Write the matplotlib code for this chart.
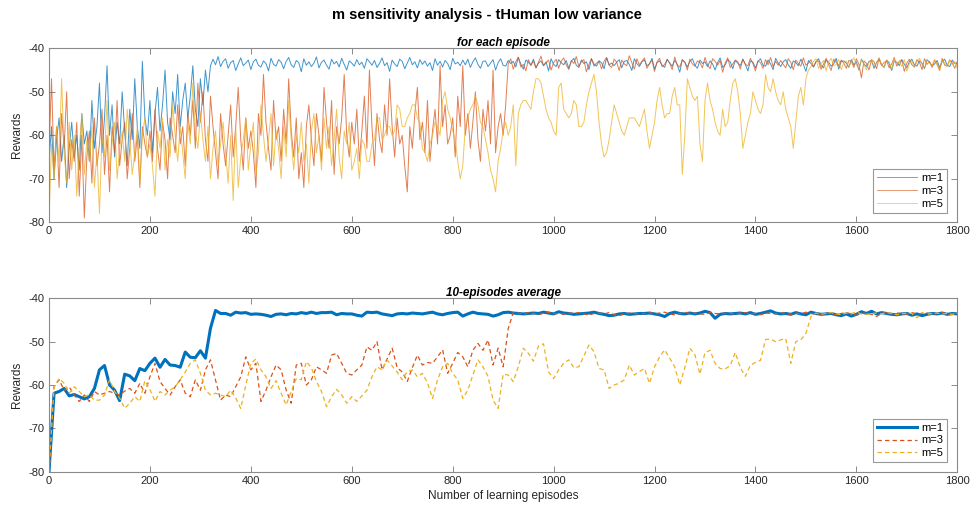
import numpy as np
import matplotlib
matplotlib.use('Agg')
import matplotlib.pyplot as plt

# ---------------- data ----------------
series_labels = ['m=1', 'm=3', 'm=5']
series_colors = ['#0072BD', '#D95319', '#EDB120']
x_ticks = [0, 200, 400, 600, 800, 1000, 1200, 1400, 1600, 1800]
y_ticks = [-80, -70, -60, -50, -40]

# per-episode rewards (read every 5 episodes), segments: (first episode, last episode, values)
top_m1_early = [  # episodes 0..320
    -66, -58, -70, -61, -56, -66, -60, -72, -63, -57, -65, -60, -68, -55, -62, -59, -66, -52, -63, -58,
    -48, -64, -56, -44, -60, -53, -65, -57, -62, -50, -59, -67, -54, -61, -47, -58, -63, -43, -56, -60,
    -52, -64, -55, -49, -59, -53, -45, -57, -61, -50, -55, -46, -58, -52, -48, -56, -51, -44, -54, -58,
    -47, -53, -45, -50, -44]
top_m1_late = [  # episodes 325..1800
    -42.5, -43.8, -41.9, -44.2, -43.0, -42.4, -44.6, -43.3, -42.8, -45.1, -43.6, -42.2, -44.0, -43.4, -42.7, -44.9, -43.1, -42.5, -43.9, -44.3,
    -42.9, -43.5, -45.2, -42.3, -43.7, -44.1, -42.6, -43.2, -44.7, -43.0, -42.1, -43.8, -44.4, -42.8, -43.3, -45.4, -42.4, -43.9, -43.1, -44.2,
    -43.4, -42.0, -44.5, -43.2, -42.7, -43.9, -44.8, -42.5, -43.6, -43.0, -44.3, -42.3, -43.7, -45.0, -42.9, -43.4, -44.1, -42.6, -43.8, -43.2,
    -44.6, -42.4, -43.1, -43.9, -42.8, -44.4, -43.5, -42.2, -44.0, -43.3, -45.3, -42.7, -43.6, -44.2, -42.5, -43.0, -44.7, -43.4, -42.1, -43.8,
    -43.1, -44.5, -42.6, -43.7, -42.9, -44.1, -43.3, -45.1, -42.4, -43.9, -43.0, -44.3, -42.8, -43.5, -44.9, -42.3, -43.6, -43.2, -44.0, -42.7,
    -43.8, -42.5, -44.4, -43.1, -42.2, -43.7, -44.6, -43.0, -42.9, -44.2, -43.4, -42.6, -45.0, -43.3, -42.4, -43.9, -44.1, -42.8, -43.5, -43.0,
    -44.3, -42.1, -43.6, -44.8, -42.7, -43.2, -43.9, -42.5, -44.5, -43.4, -42.9, -44.0, -43.1, -45.2, -42.4, -43.7, -44.2, -42.6, -43.3, -43.8,
    -42.8, -44.6, -43.0, -42.3, -43.9, -44.4, -42.7, -43.5, -43.1, -44.9, -42.5, -43.6, -44.1, -42.9, -43.3, -44.7, -42.2, -43.8, -43.4, -44.0,
    -43.2, -42.6, -44.5, -43.0, -42.8, -43.7, -45.1, -42.4, -43.5, -44.2, -43.1, -42.7, -44.0, -43.6, -42.3, -44.8, -43.3, -42.9, -43.9, -44.4,
    -42.5, -43.4, -44.1, -42.8, -43.7, -45.5, -42.6, -43.2, -44.3, -43.0, -42.4, -43.9, -44.6, -42.7, -43.5, -43.1, -44.2, -42.9, -43.6, -45.0,
    -43.3, -42.2, -44.4, -43.8, -42.6, -43.1, -44.7, -42.8, -43.4, -44.0, -42.5, -43.7, -45.2, -42.9, -43.2, -44.5, -43.0, -42.4, -43.9, -44.1,
    -42.7, -43.6, -44.9, -42.3, -43.4, -44.2, -43.1, -42.6, -43.8, -44.6, -42.9, -43.3, -44.0, -42.5, -43.7, -45.3, -42.8, -43.5, -44.3, -43.0,
    -42.4, -43.9, -44.5, -42.7, -43.2, -44.1, -43.6, -42.3, -44.8, -43.0, -42.9, -43.4, -44.4, -42.6, -43.8, -43.1, -45.0, -42.5, -43.6, -44.2,
    -43.0, -42.8, -44.6, -43.3, -42.4, -43.9, -44.3, -42.7, -43.5, -45.1, -42.9, -43.2, -44.0, -42.6, -43.7, -44.5, -43.1, -42.5, -43.8, -44.1,
    -42.9, -43.4, -44.7, -42.6, -43.2, -44.0, -43.6, -42.8, -44.4, -43.1, -42.5, -43.9, -44.2, -42.7, -43.5, -43.3]

top_m3_early = [  # episodes 0..905
    -64, -47, -68, -58, -72, -55, -63, -50, -70, -61, -66, -57, -74, -60, -79, -65, -59, -71, -56, -67,
    -62, -54, -69, -60, -73, -58, -64, -52, -67, -61, -57, -70, -63, -55, -66, -60, -72, -58, -62, -65,
    -59, -66, -54, -63, -68, -57, -61, -70, -56, -60, -64, -53, -62, -58, -67, -55, -60, -52, -63, -48,
    -57, -50, -61, -66, -51, -58, -64, -70, -55, -62, -67, -60, -53, -65, -58, -49, -61, -68, -56, -63,
    -59, -64, -72, -55, -60, -46, -57, -63, -68, -52, -61, -58, -66, -54, -62, -47, -59, -65, -56, -70,
    -64, -72, -58, -53, -61, -67, -55, -60, -66, -49, -57, -63, -52, -69, -58, -62, -56, -46, -60, -65,
    -57, -62, -54, -66, -59, -51, -63, -45, -58, -67, -55, -61, -64, -53, -60, -47, -58, -65, -56, -62,
    -60, -67, -73, -58, -63, -55, -49, -61, -57, -64, -52, -66, -59, -54, -62, -44, -58, -53, -62, -60,
    -56, -65, -51, -58, -44, -60, -55, -63, -57, -50, -61, -66, -54, -59, -52, -62, -45, -64, -58, -55,
    -60, -53]
top_m3_late = [  # episodes 910..1800
    -43.6, -42.4, -44.8, -43.1, -42.0, -44.3, -43.7, -45.2, -42.6, -43.9, -42.9, -44.5, -43.2, -41.8, -44.0, -43.4, -42.7, -45.0, -43.3, -42.5,
    -44.6, -43.0, -42.2, -43.8, -44.9, -42.8, -43.5, -41.9, -44.2, -43.1, -42.6, -45.4, -43.7, -42.3, -44.1, -43.4, -42.9, -44.7, -43.0, -42.1,
    -43.9, -44.4, -42.5, -43.2, -45.1, -42.7, -43.6, -44.0, -41.7, -43.3, -44.8, -42.4, -43.8, -43.0, -42.2, -44.6, -43.5, -42.8, -45.3, -43.1,
    -42.3, -44.2, -43.7, -42.6, -43.4, -44.9, -42.0, -43.9, -44.3, -42.7, -43.2, -45.0, -42.5, -43.6, -44.1, -42.9, -43.3, -44.5, -42.1, -43.8,
    -44.7, -42.4, -43.0, -43.9, -42.8, -45.5, -43.4, -42.2, -44.4, -43.6, -42.7, -43.1, -44.8, -42.5, -43.7, -44.0, -42.3, -43.5, -45.2, -42.9,
    -43.3, -44.6, -42.6, -43.8, -42.1, -44.2, -43.0, -43.9, -42.8, -43.7, -44.5, -42.4, -43.2, -44.9, -42.7, -43.5, -44.1, -42.2, -43.9, -43.4,
    -42.6, -44.3, -43.1, -42.9, -44.8, -43.6, -42.3, -43.8, -45.1, -42.5, -43.2, -44.0, -42.7, -43.4, -44.6, -42.8, -43.0, -44.4, -42.4, -43.7,
    -46.8, -42.9, -43.5, -45.0, -42.6, -43.1, -44.7, -42.3, -43.9, -43.3, -42.8, -44.5, -43.6, -42.1, -44.1, -43.0, -42.7, -45.3, -43.4, -42.5,
    -43.8, -44.3, -42.6, -43.2, -44.9, -42.4, -43.7, -43.0, -44.4, -42.8, -43.5, -45.1, -42.3, -43.9, -44.0, -42.7, -43.3, -44.6, -43.1]

top_m5_early = [  # episodes 0..600
    -80, -62, -70, -58, -66, -47, -64, -71, -57, -68, -60, -74, -63, -55, -69, -61, -66, -58, -72, -64,
    -78, -60, -65, -52, -68, -62, -57, -70, -63, -59, -66, -54, -61, -69, -64, -58, -71, -60, -56, -65,
    -62, -67, -74, -59, -63, -56, -68, -61, -65, -53, -60, -66, -58, -64, -70, -57, -62, -48, -59, -63,
    -55, -61, -66, -58, -70, -63, -59, -67, -62, -57, -64, -71, -60, -75, -58, -72, -65, -61, -56, -68,
    -62, -57, -69, -64, -53, -60, -66, -61, -55, -67, -59, -63, -70, -58, -65, -52, -61, -68, -60, -64,
    -57, -66, -62, -71, -59, -55, -64, -60, -68, -56, -63, -58, -67, -61, -54, -65, -70, -59, -62, -57,
    -68]
top_m5_mid = [  # episodes 605..1505
    -66, -63, -70, -61, -62, -66, -66, -62, -61, -56, -56, -61, -60, -58, -58, -60, -59, -53, -54, -58,
    -58, -56, -55, -53, -53, -56, -57, -63, -64, -66, -62, -60, -57, -58, -60, -52, -50, -54, -56, -59,
    -61, -66, -70, -67, -58, -56, -54, -53, -51, -53, -57, -58, -61, -64, -68, -70, -73, -66, -63, -59,
    -57, -60, -58, -53, -67, -55, -53, -52, -52, -53, -54, -50, -47, -47, -48, -51, -54, -56, -57, -59,
    -60, -49, -48, -54, -55, -56, -55, -52, -53, -58, -58, -57, -53, -50, -48, -46, -50, -57, -62, -65,
    -64, -61, -57, -53, -55, -57, -59, -60, -58, -56, -56, -56, -57, -58, -56, -54, -59, -63, -60, -57,
    -52, -49, -53, -56, -55, -55, -51, -49, -53, -53, -69, -60, -47, -49, -51, -52, -51, -62, -66, -52,
    -48, -52, -54, -57, -59, -60, -54, -58, -57, -52, -48, -47, -50, -55, -63, -60, -57, -55, -50, -52,
    -54, -55, -53, -46, -49, -50, -47, -50, -52, -53, -50, -54, -56, -58, -63, -57, -51, -49, -53, -47,
    -45]
top_m5_late = [  # episodes 1510..1800
    -44.2, -43.0, -42.4, -44.6, -43.5, -42.8, -45.2, -43.1, -42.3, -44.0, -43.7, -42.6, -44.9, -43.3, -42.9, -44.3, -43.0, -42.2, -43.8, -44.7,
    -42.5, -43.6, -45.0, -43.2, -42.7, -44.1, -43.4, -42.1, -43.9, -44.5, -42.8, -43.1, -44.8, -42.4, -43.6, -43.0, -44.2, -42.6, -45.3, -43.5,
    -42.9, -44.4, -43.2, -42.3, -43.7, -44.6, -42.7, -43.4, -44.0, -42.5, -43.9, -45.1, -42.8, -43.3, -44.3, -42.6, -43.8, -43.1, -44.5]

top_segments = [
    [(0, 320, top_m1_early), (325, 1800, top_m1_late)],
    [(0, 905, top_m3_early), (910, 1800, top_m3_late)],
    [(0, 600, top_m5_early), (605, 1505, top_m5_mid), (1510, 1800, top_m5_late)],
]

# 10-episode averages, episodes 0, 10, ..., 1800
avg_m1 = [
    -80.0, -61.9, -61.5, -60.8, -62.5, -62.2, -62.7, -63.2, -62.7, -60.8, -56.5, -55.5, -60.0, -61.2, -63.6, -57.5, -57.9, -59.0, -56.2, -56.7,
    -55.0, -53.8, -55.9, -54.1, -55.4, -55.5, -55.9, -52.4, -53.6, -53.7, -52.1, -53.8, -46.9, -42.8, -43.5, -43.5, -43.9, -43.2,
    -43.4, -43.3, -43.7, -43.6, -43.7, -43.9, -44.2, -43.7, -43.6, -43.8, -43.5, -43.6, -43.3, -43.5, -43.2, -43.5, -43.3, -43.3, -43.2, -43.8,
    -43.5, -43.6, -43.6, -43.9, -44.1, -43.2, -43.3, -43.2, -43.6, -43.8, -44.0, -43.6, -43.5, -43.6, -43.4, -43.5, -43.6, -43.4, -43.2, -43.6,
    -43.8, -43.5, -43.3, -43.2, -44.1, -43.6, -43.2, -43.5, -43.6, -43.7, -44.1, -43.8, -43.3, -43.2, -43.4, -43.5, -43.6, -43.5, -43.4, -43.5,
    -43.2, -43.4, -43.6, -43.1, -43.4, -43.5, -43.7, -43.6, -43.5, -43.4, -43.2, -43.5, -43.7, -44.0, -43.9, -43.6, -43.5, -43.7, -43.6, -43.5,
    -43.5, -43.4, -43.6, -43.8, -44.2, -43.5, -43.2, -43.5, -43.6, -43.4, -43.6, -43.4, -43.0, -43.3, -44.6, -43.7, -43.5, -43.6, -43.5, -43.4,
    -43.6, -43.3, -43.7, -43.5, -43.2, -42.9, -43.4, -43.6, -43.5, -43.7, -43.3, -43.6, -43.8, -43.2, -43.5, -43.7, -43.6, -43.5, -43.8, -44.0,
    -43.6, -44.1, -43.7, -43.1, -43.5, -43.0, -43.6, -43.3, -43.5, -43.7, -43.8, -43.6, -43.5, -43.9, -43.6, -44.0, -43.7, -43.5, -43.6, -43.4,
    -43.7, -43.5, -43.6]
avg_m3 = [
    -80.0, -60.4, -58.8, -61.2, -60.4, -62.3, -63.8, -62.3, -63.8, -61.5, -62.3, -61.9, -61.5, -61.9, -62.3, -61.4, -60.8, -61.9, -59.6, -61.9,
    -58.1, -55.0, -59.2, -60.8, -62.3, -60.4, -58.8, -61.9, -62.7, -58.8, -61.2, -56.5, -54.2, -58.8, -63.5, -62.3, -62.7, -60.4, -58.1, -53.5,
    -56.5, -55.0, -63.8, -61.2, -58.1, -55.4, -56.5, -61.2, -64.2, -55.4, -55.0, -60.0, -58.8, -55.8, -56.5, -57.3, -53.1, -52.7, -55.0, -57.3,
    -57.7, -56.5, -55.4, -51.2,
    -52.0, -50.0, -56.5, -54.0, -51.5, -56.0, -57.0, -59.2, -56.0, -53.1, -55.4, -54.8, -55.0, -53.5, -51.9, -57.3, -55.0, -52.5, -53.5, -55.8,
    -52.0, -50.4, -52.0, -49.6, -55.4, -51.5, -55.8, -47.0, -43.3,
    -43.4, -43.6, -43.3, -43.5, -43.8, -43.4, -43.2, -43.6, -43.5, -43.7,
    -43.4, -43.5, -43.3, -43.6, -43.9, -43.5, -43.4, -43.6, -43.3, -43.8,
    -44.0, -43.6, -43.4, -43.5, -43.7, -43.5, -43.3, -43.6, -43.4, -43.2,
    -43.6, -43.8, -43.5, -43.2, -43.5, -43.4, -43.6, -43.7, -43.3, -43.5,
    -43.6, -43.4, -43.5, -43.7, -43.4, -43.3, -43.6, -43.5, -43.8, -43.4,
    -43.5, -43.6, -43.3, -43.5, -43.7, -43.4, -43.6, -43.2, -43.5, -43.7,
    -43.6, -43.5, -43.4, -43.8, -43.5, -43.3, -43.6, -43.9, -43.5, -43.4,
    -43.7, -44.2, -43.5, -43.3, -43.6, -43.4, -43.5, -43.7, -43.3, -43.6,
    -43.5, -43.4, -43.7, -43.5, -43.3, -43.6, -43.8, -43.5]
avg_m5 = [
    -80.0, -60.4, -58.5, -59.6, -61.9, -60.4, -61.5, -62.7, -62.3, -63.5, -63.5, -62.3, -58.8, -61.5, -63.0, -65.4, -64.2, -62.7, -63.8, -59.0,
    -61.0, -63.8, -61.5, -62.3, -61.2, -60.4, -58.8, -57.0, -55.0, -54.2, -57.3, -61.2, -62.3, -61.9, -62.3, -62.7, -61.2, -63.0, -65.4, -60.0,
    -55.0, -54.0, -56.5, -58.1, -60.8, -59.0, -61.9, -64.6, -61.5, -58.5, -58.8, -54.6, -56.0, -59.2, -61.5, -65.0, -62.7, -61.0, -62.3, -64.2,
    -62.7, -63.8, -62.5, -61.2,
    -58.1, -55.8, -56.5, -54.2, -55.6, -57.0, -58.8, -56.9, -56.5, -58.1, -57.3, -59.5, -63.1, -58.8, -55.8, -55.0, -57.3, -58.8, -63.1, -61.2,
    -57.7, -54.2, -55.8, -58.0, -63.5, -65.4, -57.5, -57.7, -59.2, -55.8, -51.5, -52.7, -54.5, -51.0, -50.5, -57.0, -58.5, -56.5, -55.0, -54.2,
    -56.0, -55.8, -53.3, -50.8, -52.3, -56.2, -56.5, -60.8, -60.0, -59.6, -58.8, -55.4, -57.7, -56.9, -56.2, -59.6, -55.8, -53.5, -51.9, -53.8,
    -55.8, -60.0, -56.0, -51.5, -53.0, -57.5, -52.5, -52.0, -55.0, -56.2, -56.3, -55.5, -52.5, -56.0, -58.0, -55.4, -54.8, -54.3, -49.5, -49.4,
    -50.0, -49.6, -49.3, -55.0, -50.0, -49.6, -48.1,
    -44.2,
    -43.4, -43.7, -43.5, -43.3, -43.6, -43.8, -43.4, -43.5, -43.2, -43.6,
    -43.7, -43.5, -43.4, -43.6, -43.3, -43.5, -43.8, -43.6, -43.4, -43.5,
    -44.5, -43.3, -43.7, -43.5, -43.4, -43.6, -43.5, -43.7, -43.4]
avg_series = [avg_m1, avg_m3, avg_m5]

# ---------------- figure ----------------
plt.rcParams['font.family'] = ['Liberation Sans Narrow', 'Liberation Sans', 'DejaVu Sans']
plt.rcParams['axes.unicode_minus'] = False
W, H = 973, 514
fig = plt.figure(figsize=(W / 100, H / 100), dpi=100)

def ax_rect(l, t, r, b):
    return [l / W, 1 - b / H, (r - l) / W, (b - t) / H]

ax1 = fig.add_axes(ax_rect(49, 48.3, 957.3, 222.3))
ax2 = fig.add_axes(ax_rect(49, 298.3, 957.3, 471.7))

for i in range(3):
    xs, ys = [], []
    for (a, b, vals) in top_segments[i]:
        xs.append(np.linspace(a, b, len(vals)))
        ys.append(np.asarray(vals, dtype=float))
    ax1.plot(np.concatenate(xs), np.concatenate(ys), color=series_colors[i],
             lw=0.7, alpha=0.75, label=series_labels[i])

styles = [dict(ls='-', lw=2.2), dict(ls=(0, (3.5, 2.5)), lw=0.9), dict(ls=(0, (3.5, 2.5)), lw=0.9)]
for i in range(3):
    vals = avg_series[i]
    ax2.plot(np.linspace(0, 1800, len(vals)), vals, color=series_colors[i],
             label=series_labels[i], **styles[i])

spine_col = '#8a8a8a'
for ax in (ax1, ax2):
    ax.set_xlim(0, 1800)
    ax.set_ylim(-80, -40)
    ax.set_xticks(x_ticks)
    ax.set_yticks(y_ticks)
    ax.tick_params(direction='in', length=4.5, width=0.7, colors='#262626',
                   labelsize=8, top=True, right=True, pad=3)
    ax.tick_params(axis='both', color=spine_col)
    for s in ax.spines.values():
        s.set_color(spine_col)
        s.set_linewidth(0.8)
    ax.set_ylabel('Rewards', fontsize=8.5, color='#262626', labelpad=4)
    leg = ax.legend(loc='lower right', bbox_to_anchor=(0.989, 0.055), borderaxespad=0,
                    fontsize=8, frameon=True, fancybox=False, handlelength=3.6,
                    handletextpad=0.4, borderpad=0.35, labelspacing=0.25)
    leg.get_frame().set_edgecolor('#7f7f7f')
    leg.get_frame().set_linewidth(0.8)
    for line in leg.get_lines():
        line.set_alpha(0.6 if ax is ax1 else 1.0)

ax1.set_title('for each episode', fontsize=8.5, fontweight='bold', fontstyle='italic', pad=2)
ax2.set_title('10-episodes average', fontsize=8.5, fontweight='bold', fontstyle='italic', pad=2)
ax2.set_xlabel('Number of learning episodes', fontsize=8.5, color='#262626', labelpad=3)
fig.suptitle('m sensitivity analysis - tHuman low variance', fontsize=10.5, fontweight='bold', y=0.985)

fig.savefig('out.png', dpi=100)
